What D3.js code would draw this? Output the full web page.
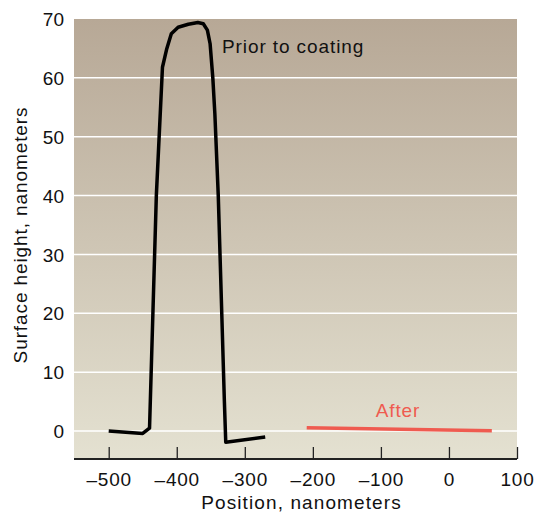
<!DOCTYPE html>
<html>
<head>
<meta charset="utf-8">
<script src="https://cdn.jsdelivr.net/npm/d3@7"></script>
<style>
  html, body { margin: 0; padding: 0; background: #fff; }
  #chart { width: 538px; height: 514px; }
  text { font-family: "Liberation Sans", Arial, Helvetica, sans-serif; fill: #111; }
</style>
</head>
<body>
<div id="chart"></div>
<script>
// surface profile, before and after coating
const priorX = [-500, -450, -440, -430, -421, -415, -408, -398, -383, -369, -361, -355, -351, -347, -344, -339, -330, -328, -270];
const priorY = [0, -0.4, 0.5, 40, 61.8, 64.8, 67.5, 68.6, 69.1, 69.4, 69.2, 68.1, 65.8, 60, 53.9, 40, 5, -1.9, -1.0];
const afterX = [-209, 63];
const afterY = [0.55, 0.05];
const xTicks = [-500, -400, -300, -200, -100, 0, 100];
const yTicks = [0, 10, 20, 30, 40, 50, 60, 70];
const gridVals = [0, 10, 20, 30, 40, 50, 60];

const W = 538, H = 514;
const m = { left: 74, right: 21, top: 19, bottom: 55 };

const svg = d3.select('#chart').append('svg')
  .attr('width', W).attr('height', H);

const x = d3.scaleLinear().domain([-551, 100]).range([m.left, W - m.right]);
const y = d3.scaleLinear().domain([-4.75, 70]).range([H - m.bottom, m.top]);

const defs = svg.append('defs');
const grad = defs.append('linearGradient').attr('id', 'bg')
  .attr('x1', 0).attr('y1', 0).attr('x2', 0).attr('y2', 1);
grad.append('stop').attr('offset', '0%').attr('stop-color', '#b7a896');
grad.append('stop').attr('offset', '100%').attr('stop-color', '#e4e1d1');

svg.append('rect')
  .attr('x', m.left).attr('y', m.top)
  .attr('width', W - m.right - m.left).attr('height', H - m.bottom - m.top)
  .attr('fill', 'url(#bg)');

// gridlines
svg.append('g').selectAll('line').data(gridVals).join('line')
  .attr('x1', m.left).attr('x2', W - m.right)
  .attr('y1', d => y(d)).attr('y2', d => y(d))
  .attr('stroke', '#fff').attr('stroke-width', 1.5);

const fmt = d => d < 0 ? '\u2013' + Math.abs(d) : String(d);

// x axis
const xAxis = svg.append('g')
  .attr('transform', `translate(0,${H - m.bottom})`)
  .call(d3.axisBottom(x).tickValues(xTicks).tickSize(-12).tickPadding(0).tickFormat(fmt));
xAxis.select('.domain')
  .attr('d', `M${m.left},0H${W - m.right}`)
  .attr('stroke', '#222').attr('stroke-width', 2.2);
xAxis.selectAll('.tick line').attr('stroke', '#222').attr('stroke-width', 1.3);
xAxis.selectAll('.tick text')
  .attr('y', 27).attr('dy', 0)
  .style('font-size', '19px').style('fill', '#111').style('letter-spacing', '0.8px')
  .style('font-family', '"Liberation Sans", Arial, sans-serif');

// y axis (labels only)
const yAxis = svg.append('g')
  .attr('transform', `translate(${m.left},0)`)
  .call(d3.axisLeft(y).tickValues(yTicks).tickSize(0).tickPadding(10).tickFormat(fmt));
yAxis.select('.domain').remove();
yAxis.selectAll('.tick text')
  .attr('dy', '0.35em')
  .style('font-size', '19px').style('fill', '#111')
  .style('font-family', '"Liberation Sans", Arial, sans-serif');

// axis titles
svg.append('text')
  .attr('x', (m.left + W - m.right) / 2 + 6).attr('y', 509)
  .attr('text-anchor', 'middle')
  .style('font-size', '19px').style('letter-spacing', '1.1px')
  .text('Position, nanometers');

svg.append('text')
  .attr('transform', 'translate(27,235) rotate(-90)')
  .attr('text-anchor', 'middle')
  .style('font-size', '19px').style('letter-spacing', '0.9px')
  .text('Surface height, nanometers');

// lines
const line = d3.line().x(d => x(d[0])).y(d => y(d[1]));
svg.append('path')
  .datum(d3.zip(priorX, priorY))
  .attr('d', line)
  .attr('fill', 'none').attr('stroke', '#000')
  .attr('stroke-width', 3.5).attr('stroke-linejoin', 'round');

svg.append('path')
  .datum(d3.zip(afterX, afterY))
  .attr('d', line)
  .attr('fill', 'none').attr('stroke', '#ef5b50')
  .attr('stroke-width', 3.5);

// labels
svg.append('text')
  .attr('x', 222).attr('y', 52.5)
  .style('font-size', '19px').style('letter-spacing', '0.9px')
  .text('Prior to coating');

svg.append('text')
  .attr('x', 398).attr('y', 417)
  .attr('text-anchor', 'middle')
  .style('font-size', '19px').style('letter-spacing', '0.9px')
  .style('fill', '#ef5b50')
  .text('After');
</script>
</body>
</html>
